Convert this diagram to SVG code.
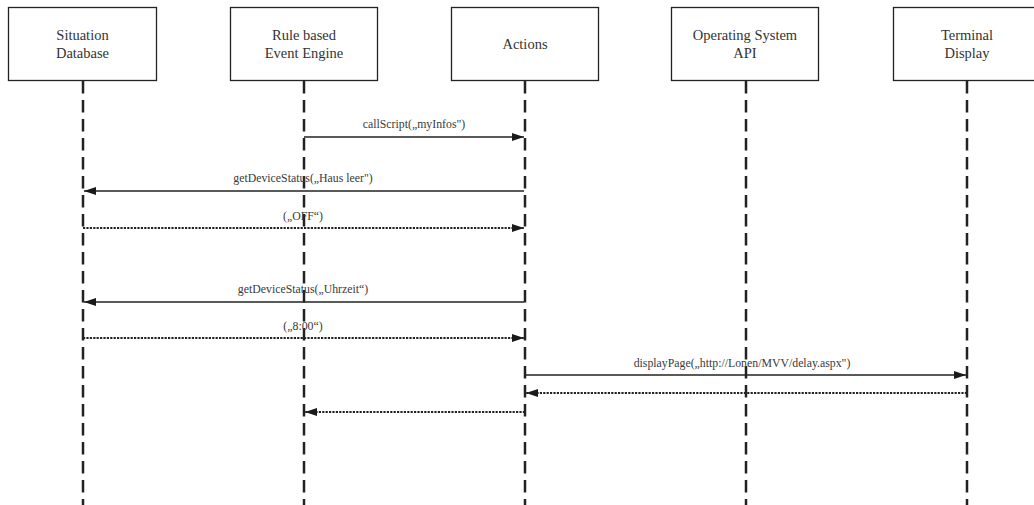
<svg xmlns="http://www.w3.org/2000/svg" width="1034" height="505" viewBox="0 0 1034 505">
  <style>
    .box { fill: #ffffff; stroke: #222222; stroke-width: 1.3; }
    .name { font-family: "Liberation Serif", "DejaVu Serif", serif; font-size: 14.5px; fill: #333333; text-anchor: middle; }
    .life { stroke: #222222; stroke-width: 2.5; stroke-dasharray: 12.4 6.6; fill: none; }
    .call { stroke: #222222; stroke-width: 1.5; fill: none; marker-end: url(#head); }
    .reply { stroke: #222222; stroke-width: 2; stroke-dasharray: 2.2 1.2; fill: none; marker-end: url(#head); }
    .msg { font-family: "Liberation Serif", "DejaVu Serif", serif; font-size: 11.8px; fill: #3a3a3a; text-anchor: middle; }
  </style>
  <defs>
    <marker id="head" viewBox="0 0 12 8" refX="12" refY="4" markerWidth="12" markerHeight="8" markerUnits="userSpaceOnUse" orient="auto">
      <path d="M0,0 L12,4 L0,8 Z" fill="#1a1a1a"/>
    </marker>
  </defs>
  <rect width="1034" height="505" fill="#ffffff"/>

  <!-- participants -->
  <g id="situation-database">
    <rect class="box" x="8.5" y="7.5" width="148" height="73"/>
    <text class="name" x="82.5" y="40">Situation</text>
    <text class="name" x="82.5" y="58">Database</text>
    <line class="life" x1="83" y1="81" x2="83" y2="505"/>
  </g>
  <g id="event-engine">
    <rect class="box" x="230.5" y="7.5" width="147" height="73"/>
    <text class="name" x="304" y="40">Rule based</text>
    <text class="name" x="304" y="58">Event Engine</text>
    <line class="life" x1="304" y1="81" x2="304" y2="505"/>
  </g>
  <g id="actions">
    <rect class="box" x="451.5" y="7.5" width="147" height="73"/>
    <text class="name" x="525" y="49">Actions</text>
    <line class="life" x1="525" y1="81" x2="525" y2="505"/>
  </g>
  <g id="os-api">
    <rect class="box" x="671.5" y="7.5" width="147" height="73"/>
    <text class="name" x="745" y="40">Operating System</text>
    <text class="name" x="745" y="58">API</text>
    <line class="life" x1="746" y1="81" x2="746" y2="505"/>
  </g>
  <g id="terminal-display">
    <rect class="box" x="893.5" y="7.5" width="147" height="73"/>
    <text class="name" x="967" y="40">Terminal</text>
    <text class="name" x="967" y="58">Display</text>
    <line class="life" x1="967" y1="81" x2="967" y2="505"/>
  </g>

  <!-- messages -->
  <g id="connectors">
    <line class="call" x1="304" y1="137" x2="524" y2="137"/>
    <text class="msg" x="414" y="128">callScript(„myInfos")</text>

    <line class="call" x1="524" y1="191" x2="84" y2="191"/>
    <text class="msg" x="303" y="182">getDeviceStatus(„Haus leer")</text>

    <line class="reply" x1="83" y1="228" x2="524" y2="228"/>
    <text class="msg" x="303" y="220">(„OFF“)</text>

    <line class="call" x1="524" y1="302" x2="84" y2="302"/>
    <text class="msg" x="303" y="293">getDeviceStatus(„Uhrzeit“)</text>

    <line class="reply" x1="83" y1="338" x2="524" y2="338"/>
    <text class="msg" x="303" y="330">(„8:00“)</text>

    <line class="call" x1="525" y1="375" x2="966" y2="375"/>
    <text class="msg" x="742" y="367">displayPage(„http://Lonen/MVV/delay.aspx")</text>

    <line class="reply" x1="967" y1="393" x2="526" y2="393"/>

    <line class="reply" x1="525" y1="412" x2="305" y2="412"/>
  </g>
</svg>
